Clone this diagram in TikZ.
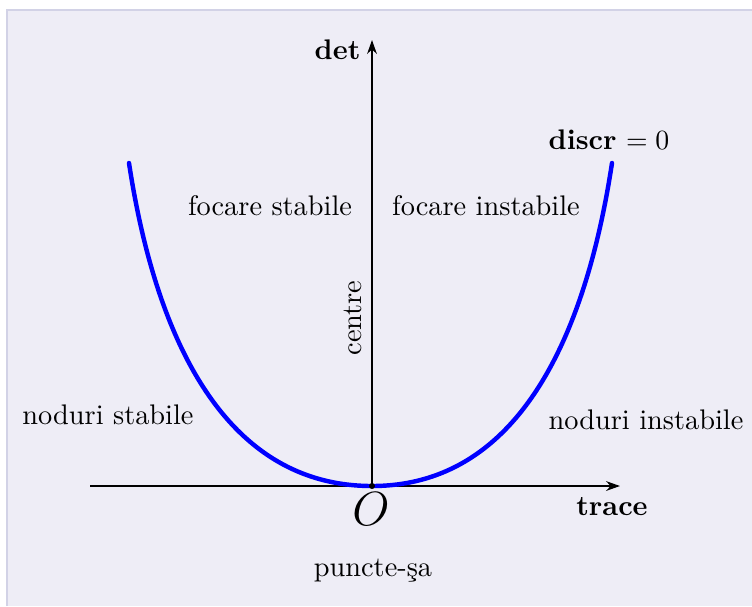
\documentclass[tikz,border=0pt]{standalone}
\usetikzlibrary{arrows.meta}
\definecolor{bgfill}{HTML}{EEEDF6}
\definecolor{bgline}{HTML}{D2D2E6}
\tikzset{
  axis/.style={line width=0.75pt,-{Stealth[length=5pt,width=3.5pt]}},
  curve/.style={blue,line width=1.6pt,line cap=round},
  lbl/.style={inner sep=0pt,font=\fontsize{10.2}{12}\selectfont}
}
\begin{document}
\begin{tikzpicture}[x=0.36pt,y=-0.36pt]
\useasboundingbox (0,0) rectangle (752,606);
\fill[bgfill] (7,10) rectangle (752,606);
\draw[bgline,line width=0.75pt] (7,606) -- (7,10) -- (752,10);
\coordinate (xs) at (90,486);
\coordinate (xe) at (620,486);
\coordinate (O) at (372,486);
\coordinate (ye) at (372,40);
\coordinate (tl) at (129,163);
\coordinate (tr) at (612,163);
\draw[axis] (xs) -- (xe);
\draw[axis] (O) -- (ye);
\draw[curve] (tl) .. controls (151.6,312) and (212,486) .. (O)
                  .. controls (530,486) and (589.4,312) .. (tr);
\fill (O) circle[radius=3];
\node[lbl,anchor=east] (det) at (361,50) {\textbf{det}};
\node[lbl] (discr) at (609,140) {\textbf{discr} $=0$};
\node[lbl] (fs) at (270,206) {focare stabile};
\node[lbl] (fi) at (486,206) {focare instabile};
\node[lbl,rotate=90] (ce) at (353,318) {centre};
\node[lbl] (ns) at (108,415) {noduri stabile};
\node[lbl] (ni) at (646,420) {noduri instabile};
\node[inner sep=0pt,font=\fontsize{16}{18}\selectfont] (o) at (371,509) {$O$};
\node[lbl] (trc) at (612,507) {\textbf{trace}};
\node[lbl] (ps) at (373,571) {puncte-şa};
\end{tikzpicture}
\end{document}
